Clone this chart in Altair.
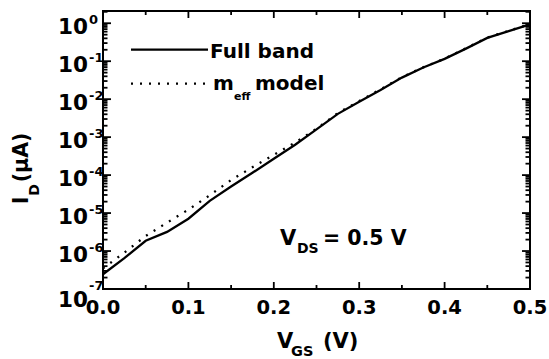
import altair as alt
import pandas as pd

# ---- data ----
vgs = [0.0, 0.025, 0.05, 0.075, 0.1, 0.125, 0.15, 0.175, 0.2, 0.225, 0.25,
       0.275, 0.3, 0.325, 0.35, 0.375, 0.4, 0.425, 0.45, 0.475, 0.5]
full_band = [2.45e-7, 6.5e-7, 1.86e-6, 3.2e-6, 7.1e-6, 2.1e-5, 5.0e-5, 1.15e-4,
             2.7e-4, 6.3e-4, 1.6e-3, 4.1e-3, 8.5e-3, 1.74e-2, 3.7e-2, 6.8e-2,
             0.115, 0.214, 0.41, 0.62, 0.93]
meff_model = [3.5e-7, 9.1e-7, 2.5e-6, 5.6e-6, 1.23e-5, 2.95e-5, 7.4e-5, 1.62e-4,
              3.4e-4, 7.2e-4, 1.66e-3, 4.3e-3, 8.9e-3, 1.82e-2, 3.8e-2, 6.9e-2,
              0.117, 0.219, 0.42, 0.63, 0.95]
series_names = ["Full band", "m_eff model"]

x_tick_labels = [0.0, 0.1, 0.2, 0.3, 0.4, 0.5]
x_tick_text = ["0.0", "0.1", "0.2", "0.3", "0.4", "0.5"]
x_minor = [0.05, 0.15, 0.25, 0.35, 0.45]
y_exponents = [-7, -6, -5, -4, -3, -2, -1, 0]
y_minor = [k * 10.0 ** e for e in range(-7, 1) for k in range(2, 10) if k * 10.0 ** e <= 2.1]

W, H = 427, 278
FONT = "DejaVu Sans"

df = pd.DataFrame({
    "VGS": vgs + vgs,
    "ID": full_band + meff_model,
    "series": [series_names[0]] * len(vgs) + [series_names[1]] * len(vgs),
})

x_scale = alt.Scale(domain=[0, 0.5], nice=False, zero=False)
y_scale = alt.Scale(type="log", domain=[1e-7, 2.1], nice=False)

solid = alt.Chart(df).transform_filter(alt.datum.series == series_names[0]).mark_line(
    color="black", strokeWidth=2.3).encode(
    x=alt.X("VGS:Q", scale=x_scale, axis=None),
    y=alt.Y("ID:Q", scale=y_scale, axis=None),
)
dotted = alt.Chart(df).transform_filter(alt.datum.series == series_names[1]).mark_line(
    color="black", strokeWidth=2.3, strokeDash=[2, 7]).encode(
    x=alt.X("VGS:Q", scale=x_scale, axis=None),
    y=alt.Y("ID:Q", scale=y_scale, axis=None),
)

# ---- inward ticks on all four sides ----
xt = pd.DataFrame({"xpos": x_tick_labels + x_minor,
                   "major": [1] * len(x_tick_labels) + [0] * len(x_minor)})
yt = pd.DataFrame({"ypos": [10.0 ** e for e in y_exponents] + y_minor,
                   "major": [1] * len(y_exponents) + [0] * len(y_minor)})

def xticks(major, length):
    out = []
    for y0, y1 in ((H, H - length), (0, length)):
        out.append(alt.Chart(xt).transform_filter(alt.datum.major == major).mark_rule(
            color="black", strokeWidth=1.8).encode(
            x=alt.X("xpos:Q", scale=x_scale, axis=None),
            y=alt.value(y0), y2=alt.value(y1)))
    return out

def yticks(major, length):
    out = []
    for x0, x1 in ((0, length), (W, W - length)):
        out.append(alt.Chart(yt).transform_filter(alt.datum.major == major).mark_rule(
            color="black", strokeWidth=1.8).encode(
            y=alt.Y("ypos:Q", scale=y_scale, axis=None),
            x=alt.value(x0), x2=alt.value(x1)))
    return out

tick_layers = xticks(1, 7) + xticks(0, 4) + yticks(1, 8) + yticks(0, 4.5)

# ---- x tick labels ----
xlab = pd.DataFrame({"xv": x_tick_labels, "t": x_tick_text})
xlabels = alt.Chart(xlab).mark_text(align="center", baseline="alphabetic", font=FONT,
                                    fontWeight="bold", fontSize=19.5, color="black").encode(
    x=alt.X("xv:Q", scale=x_scale, axis=None), y=alt.value(H + 24.5), text="t:N")

# ---- y tick labels 10^n ----
ylab = pd.DataFrame({"val": [10.0 ** e for e in y_exponents],
                     "sup": [str(e) for e in y_exponents],
                     "e": y_exponents})

def ylabels(cond, dy_base, dy_sup):
    ye = alt.Y("val:Q", scale=y_scale, axis=None)
    base = alt.Chart(ylab).transform_filter(cond).mark_text(
        align="right", baseline="alphabetic", font=FONT, fontWeight="bold",
        fontSize=21.5, color="black", dy=dy_base).encode(
        x=alt.value(-15), y=ye, text=alt.value("10"))
    sup = alt.Chart(ylab).transform_filter(cond).mark_text(
        align="left", baseline="alphabetic", font=FONT, fontWeight="bold",
        fontSize=13, color="black", dy=dy_sup).encode(
        x=alt.value(-14), y=ye, text="sup:N")
    return [base, sup]

ylabel_layers = (ylabels(alt.datum.e > -7, 10.5, 0.5)
                 + ylabels(alt.datum.e == -7, 17.5, 1))

# ---- free text helpers ----
def txt(s, x, y, size, angle=0):
    return alt.Chart(pd.DataFrame({"t": [s]})).mark_text(
        align="left", baseline="alphabetic", font=FONT, fontWeight="bold",
        fontSize=size, color="black", angle=angle).encode(
        x=alt.value(x), y=alt.value(y), text="t:N")

# axis titles
xtitle = [txt("V", 174, 337.3, 21), txt("GS", 188, 344.5, 14.5), txt("(V)", 220, 337.3, 21)]
ytitle = [txt("I", -74.7, 193.3, 21, 270), txt("D", -64.5, 184.8, 14, 270),
          txt("(µA)", -74.7, 171.3, 20.5, 270)]

# annotation
annot = [txt("V", 177, 234.3, 21), txt("DS", 194, 242.3, 14), txt("= 0.5 V", 220, 233.8, 20.5)]

# legend
leg_solid = alt.Chart(pd.DataFrame({"s": [series_names[0]]})).mark_rule(
    color="black", strokeWidth=2.3).encode(
    x=alt.value(28), x2=alt.value(105), y=alt.value(38.6))
leg_dot = alt.Chart(pd.DataFrame({"s": [series_names[1]]})).mark_rule(
    color="black", strokeWidth=2.3, strokeDash=[2, 7]).encode(
    x=alt.value(28), x2=alt.value(104), y=alt.value(72.6))
legend = [leg_solid, leg_dot, txt("Full band", 107, 46.6, 20),
          txt("m", 110, 79.3, 20), txt("eff", 131, 88.5, 11), txt("model", 152, 79.3, 20)]

chart = alt.layer(*tick_layers, solid, dotted, xlabels, *ylabel_layers, *xtitle, *ytitle,
                  *annot, *legend).properties(
    width=W, height=H,
    autosize=alt.AutoSizeParams(type="none"),
    padding={"left": 103, "top": 11, "right": 19, "bottom": 70},
    background="white",
).configure_view(stroke="black", strokeWidth=2)

chart.save("out.html", embed_options={"renderer": "svg", "actions": False})
